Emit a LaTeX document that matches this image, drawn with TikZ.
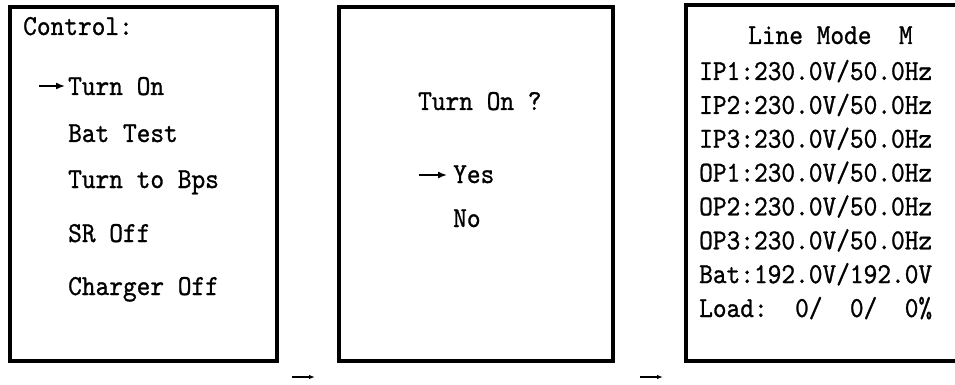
\documentclass[tikz,border=0pt]{standalone}
\usepackage{fontspec}
\newfontfamily\lcdfont{lmmono10-regular.otf}[FakeStretch=0.9,FakeBold=0.9]
\usepackage{tikz}
\usetikzlibrary{arrows.meta,positioning}

\begin{document}
\begin{tikzpicture}[
    x=1pt,y=-1pt,
    screen/.style={draw,line width=4pt,inner sep=0pt,minimum height=354pt},
    item/.style={anchor=base west,inner sep=0pt,font=\fontsize{29}{34}\selectfont\lcdfont},
    cursor/.style={-{Latex[length=9pt,width=7pt]},line width=1.6pt},
    step arrow/.style={-{Latex[length=6pt,width=4.5pt]},line width=1.1pt}
  ]
    \clip (0,0) rectangle (955,385);

    % three screens
    \node[screen,minimum width=267pt]   (scr1) at (143.5,184) {};
    \node[screen,minimum width=273.5pt] (scr2) at (475.75,184) {};
    \node[screen,minimum width=279pt,minimum height=356pt] (scr3) at (825.5,183) {};

    % screen 1: control menu
    \node[item] (ctl)  at (23,35)  {Control:};
    \node[item] (on)   at (68,95)  {Turn On};
    \node[item] (bat)  at (68,142) {Bat Test};
    \node[item] (bps)  at (68,188) {Turn to Bps};
    \node[item] (sr)   at (68,242) {SR Off};
    \node[item] (chg)  at (68,295) {Charger Off};
    \draw[cursor] ([xshift=-29pt,yshift=9pt]on.base west) -- ([xshift=-3pt,yshift=9pt]on.base west);

    % screen 2: confirm
    \node[item] (ask)  at (418,110) {Turn On ?};
    \node[item] (yes)  at (453,183) {Yes};
    \node[item] (no)   at (453,227) {No};
    \draw[cursor] ([xshift=-34pt,yshift=8pt]yes.base west) -- ([xshift=-6pt,yshift=8pt]yes.base west);

    % screen 3: status
    \node[item] (mode) at (748,44)     {Line Mode\ \ M};
    \node[item] (ip1)  at (699,80)     {IP1:230.0V/50.0Hz};
    \node[item] (ip2)  at (699,113.9)  {IP2:230.0V/50.0Hz};
    \node[item] (ip3)  at (699,147.7)  {IP3:230.0V/50.0Hz};
    \node[item] (op1)  at (699,181.6)  {OP1:230.0V/50.0Hz};
    \node[item] (op2)  at (699,215.4)  {OP2:230.0V/50.0Hz};
    \node[item] (op3)  at (699,249.3)  {OP3:230.0V/50.0Hz};
    \node[item] (batv) at (699,283.1)  {Bat:192.0V/192.0V};
    \node[item] (load) at (699,317)    {Load:\ \ 0/\ \ 0/\ \ 0\%};

    % steps
    \coordinate (s1a) at (292,377);
    \coordinate (s1b) at (315,377);
    \coordinate (s2a) at (640,377);
    \coordinate (s2b) at (663,377);
    \draw[step arrow] (s1a) -- (s1b);
    \draw[step arrow] (s2a) -- (s2b);
  \end{tikzpicture}
\end{document}
